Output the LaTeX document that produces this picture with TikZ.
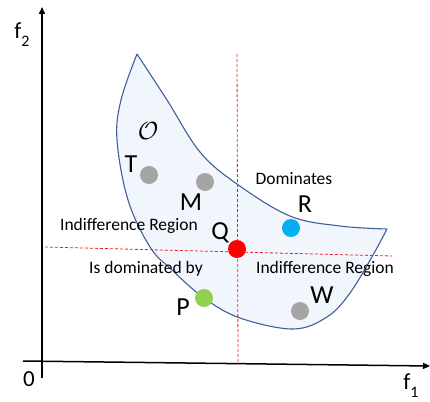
\documentclass[tikz,border=0pt]{standalone}
\usepackage{fontspec}
\setmainfont{Carlito}
\usetikzlibrary{arrows.meta}
\definecolor{regionfill}{RGB}{241,245,252}
\definecolor{regionline}{RGB}{65,95,155}
\definecolor{dotgray}{RGB}{165,165,165}
\definecolor{dotblue}{RGB}{0,176,240}
\definecolor{dotgreen}{RGB}{146,208,80}
\definecolor{dotred}{RGB}{255,0,0}
\definecolor{dashred}{RGB}{245,30,30}
\tikzset{
  axisline/.style={line width=1.5pt, black, -{Triangle[length=7pt,width=6pt]}},
  guide/.style={dashred, line width=0.8pt, dash pattern=on 3pt off 2pt},
  dotmark/.style={circle, inner sep=0pt, minimum size=18pt},
  letterlab/.style={font=\fontsize{26}{28}\selectfont, inner sep=0pt},
  regionlab/.style={font=\fontsize{17.5}{20}\selectfont, inner sep=0pt},
  axislab/.style={font=\fontsize{23}{25}\selectfont, inner sep=0pt},
}
\newcommand{\subone}[1]{\raisebox{-0.35em}{\fontsize{16}{16}\selectfont #1}}
\begin{document}
\begin{tikzpicture}[x=1pt,y=-1pt]
\useasboundingbox (0,0) rectangle (430,401);
% region
\fill[regionfill] plot[smooth,tension=0.6] coordinates {(137,54) (167,100) (200,152) (237,184) (290,216) (340,226) (387,229)}
  -- plot[smooth,tension=0.6] coordinates {(387,229) (373,255) (350,293) (327,317) (293,329) (240,318) (204,298) (172,270) (150,247) (128,200) (117,140) (121,100) (137,54)} -- cycle;
\draw[regionline, line width=1.1pt] plot[smooth,tension=0.6] coordinates {(137,54) (167,100) (200,152) (237,184) (290,216) (340,226) (387,229)};
\draw[regionline, line width=1.1pt] plot[smooth,tension=0.6] coordinates {(387,229) (373,255) (350,293) (327,317) (293,329) (240,318) (204,298) (172,270) (150,247) (128,200) (117,140) (121,100) (137,54)};
% axes
\coordinate (ybot) at (42,378);
\coordinate (ytop) at (42,7);
\coordinate (xleft) at (23,361);
\coordinate (xright) at (430,366);
\draw[axisline] (ybot) -- (ytop);
\draw[axisline] (xleft) -- (xright);
% guides
\coordinate (vtop) at (237,54);
\coordinate (vbot) at (238,362);
\coordinate (hleft) at (45,247);
\coordinate (hright) at (392,256);
\draw[guide] (vtop) -- (vbot);
\draw[guide] (hleft) -- (hright);
% dots
\node[dotmark, fill=dotgray] (T) at (149,175) {};
\node[dotmark, fill=dotgray] (M) at (205,182) {};
\node[dotmark, fill=dotblue] (R) at (291,228) {};
\node[dotmark, fill=dotred] (Q) at (237,249) {};
\node[dotmark, fill=dotgreen] (P) at (204,298) {};
\node[dotmark, fill=dotgray] (W) at (300,311) {};
% letters
\node[font=\fontsize{23}{24}\selectfont, inner sep=0pt] (O) at (148,131) {$\mathcal{O}$};
\node[letterlab] (Tl) at (131,164) {T};
\node[letterlab] (Ml) at (191,202) {M};
\node[letterlab] (Rl) at (305,204) {R};
\node[letterlab] (Ql) at (220,233) {Q};
\node[letterlab] (Pl) at (183,307) {P};
\node[letterlab] (Wl) at (322,295) {W};
% region labels
\node[regionlab] (dom) at (294,179) {Dominates};
\node[regionlab] (ind1) at (129,226) {Indifference Region};
\node[regionlab] (isd) at (146,269) {Is dominated by};
\node[regionlab] (ind2) at (325,269) {Indifference Region};
% axis labels
\node[axislab] (zero) at (29,379) {0};
\node[axislab] (f1) at (411,386) {f\subone{1}};
\node[axislab] (f2) at (22,35) {f\subone{2}};
\end{tikzpicture}
\end{document}
